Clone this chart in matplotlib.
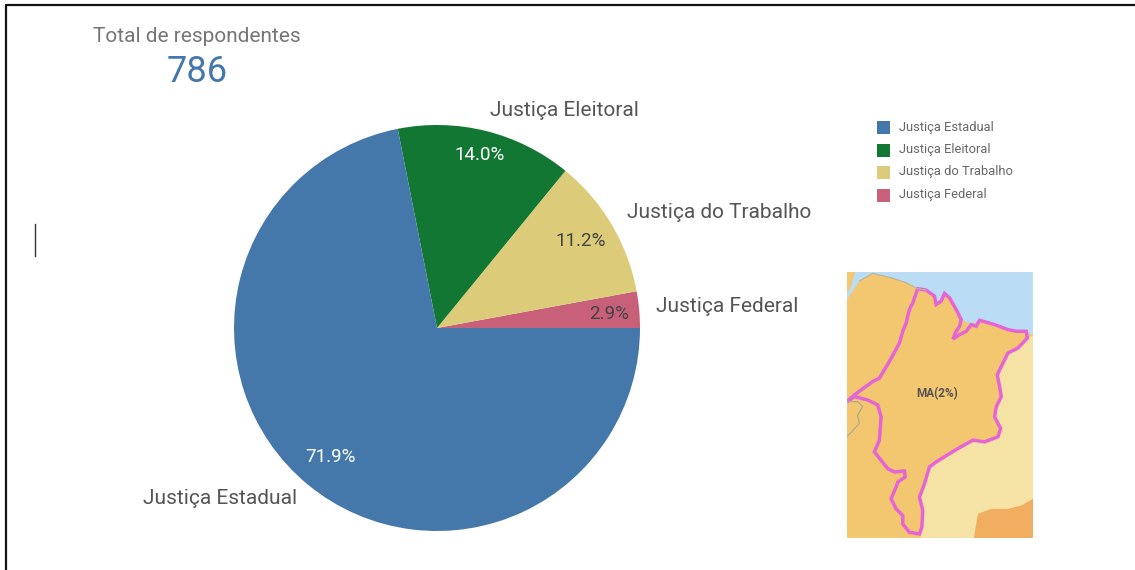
import matplotlib
matplotlib.use("Agg")
import matplotlib.pyplot as plt
from matplotlib.patches import Polygon, Rectangle

plt.rcParams['font.family'] = ['Roboto', 'DejaVu Sans']

categories = ['Justiça Federal', 'Justiça do Trabalho', 'Justiça Eleitoral', 'Justiça Estadual']
shares = [2.9, 11.2, 14.0, 71.9]
colors = ['#c9607a', '#dccb78', '#117733', '#4477aa']
legend_order = [3, 2, 1, 0]
total_label = 'Total de respondentes'
total_value = '786'

# map shapes, in the inset's own pixel grid
ma_outline = [(38,425),(60,405),(115,365),(135,355),(165,305),(195,250),(205,215),(215,190),(225,150),(235,130),
              (250,88),(275,92),(300,110),(305,135),(320,125),(330,102),(345,115),(365,150),(380,180),(375,200),
              (365,215),(355,238),(375,225),(395,215),(410,195),(425,200),(435,182),(480,195),(520,210),(545,215),
              (575,215),(578,235),(550,265),(520,280),(500,320),(488,345),(495,380),(500,410),(485,440),(480,470),
              (498,505),(490,530),(450,545),(415,540),(370,565),(305,605),(285,620),(270,670),(255,710),(265,750),
              (262,800),(255,820),(225,815),(205,790),(205,765),(185,745),(170,715),(185,680),(190,665),(212,650),
              (210,632),(180,635),(160,625),(120,575),(135,540),(140,470),(130,435),(100,420),(60,410)]
land = [(38,832),(38,120),(75,65),(115,42),(170,55),(215,70),(250,88),(275,92),(300,110),(305,135),(320,125),
        (330,102),(345,115),(365,150),(380,180),(410,195),(435,182),(480,195),(520,210),(545,215),(595,225),(595,832)]
sliver = [(38,38),(62,38),(50,80),(38,105)]
east = [(595,228),(578,235),(550,265),(520,280),(500,320),(488,345),(495,380),(500,410),(485,440),(480,470),
        (498,505),(490,530),(450,545),(415,540),(370,565),(305,605),(285,620),(270,670),(255,710),(265,750),
        (262,800),(258,832),(595,832)]
south_east = [(418,832),(430,760),(470,745),(520,745),(560,735),(595,715),(595,832)]
state_line = [(38,530),(75,490),(70,465),(85,440),(70,425),(40,425)]

fig = plt.figure(figsize=(11.35, 5.70), dpi=100)

# full-figure overlay in pixels for the frame and the free text
bg = fig.add_axes([0, 0, 1, 1])
bg.set_xlim(0, 1135)
bg.set_ylim(570, 0)
bg.axis('off')
bg.plot([6, 6, 1135], [570, 5, 5], color='#111111', lw=1.6)
bg.plot([35, 35], [224, 256], color='#333333', lw=1)
bg.text(197, 36, total_label, color='#757575', fontsize=15, ha='center', va='center')
bg.text(197, 72, total_value, color='#4477aa', fontsize=26, ha='center', va='center')

# pie, counter-clockwise from 3 o'clock
pie_ax = fig.add_axes([234/1135, 1 - 531/570, 406/1135, 406/570])
wedges, texts = pie_ax.pie(shares, colors=colors, startangle=0, radius=1,
                           wedgeprops=dict(linewidth=0))
pie_ax.set_xlim(-1, 1)
pie_ax.set_ylim(-1, 1)

pct_pos = [(609, 314), (581, 241), (480, 155), (331, 457)]
pct_col = ['#444444', '#444444', 'white', 'white']
label_pos = [(656, 306), (627, 213), (490, 111), (143, 498)]
for i, name in enumerate(categories):
    bg.text(pct_pos[i][0], pct_pos[i][1], '%.1f%%' % shares[i], color=pct_col[i], fontsize=13.5,
            ha='center', va='center', zorder=5)
    bg.text(label_pos[i][0], label_pos[i][1], name, color='#555555', fontsize=15, ha='left', va='center')
bg.set_zorder(3)
bg.patch.set_alpha(0)

# legend built by hand so the swatches stay square and tight
for row, i in enumerate(legend_order):
    y = 127 + row * 22.5
    bg.add_patch(Rectangle((877, y - 6), 13, 13, color=colors[i], lw=0))
    bg.text(899, y, categories[i], color='#666666', fontsize=9.3, ha='left', va='center')

# inset map of Maranhão
map_ax = fig.add_axes([847/1135, 1 - 538/570, 186/1135, 266/570])
map_ax.set_xlim(38, 595)
map_ax.set_ylim(832, 38)
map_ax.axis('off')
map_ax.add_patch(Rectangle((38, 38), 557, 794, color='#bbdcf5', lw=0))
map_ax.add_patch(Polygon(land, color='#f3c670', lw=0))
map_ax.add_patch(Polygon(sliver, color='#f3c670', lw=0))
map_ax.add_patch(Polygon(east, color='#f4e3a4', lw=0))
map_ax.add_patch(Polygon(south_east, color='#f1ae60', lw=0))
map_ax.plot(*zip(*land[2:8]), color='#b9b49a', lw=0.8)
map_ax.plot(*zip(*state_line), color='#b0aa90', lw=0.9)
map_ax.add_patch(Polygon(ma_outline, closed=True, facecolor='#f3c670', edgecolor='#e665d6', lw=2.5))
map_ax.text(309, 400, 'MA(2%)', color='#555555', fontsize=8.5, fontweight='bold', ha='center', va='center')

fig.savefig('out.png', dpi=100)
